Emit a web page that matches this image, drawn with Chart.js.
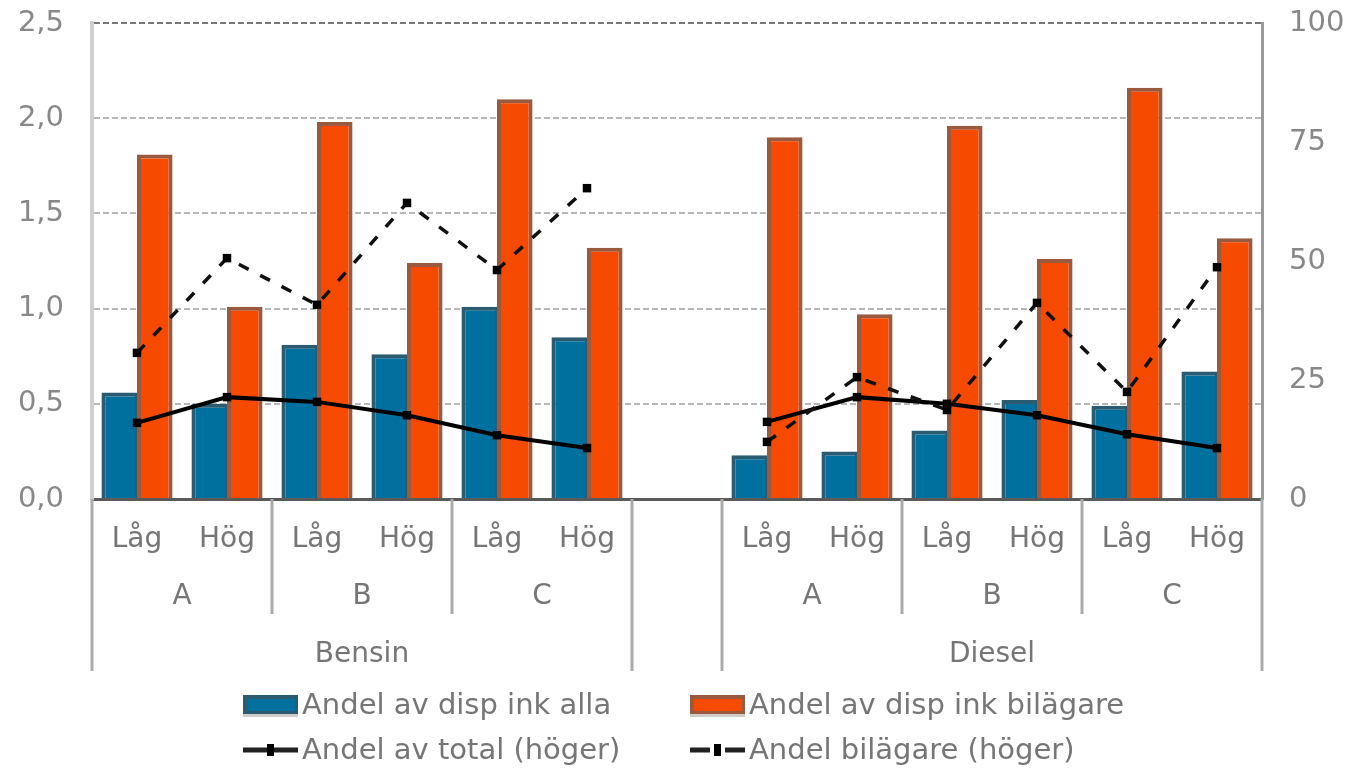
<!DOCTYPE html>
<html>
<head>
<meta charset="utf-8">
<script src="https://cdn.jsdelivr.net/npm/chart.js@4.4.1/dist/chart.umd.min.js"></script>
<style>
  html, body { margin: 0; padding: 0; background: #fff; }
  #wrap { position: relative; width: 1347px; height: 769px; }
</style>
</head>
<body>
<div id="wrap"><canvas id="c" width="1347" height="769"></canvas></div>
<script>
// Grouping of the x axis: fuel -> price class -> income level
const fuelLabels = ['Bensin', 'Diesel'];
const classLabels = ['A', 'B', 'C'];
const levelLabels = ['Låg', 'Hög'];

// Tick labels
const leftTicks = ['0,0', '0,5', '1,0', '1,5', '2,0', '2,5'];
const rightTicks = ['0', '25', '50', '75', '100'];

// Series (one empty slot separates the two fuels)
const shareIncomeAll    = [0.56, 0.50, 0.81, 0.76, 1.01, 0.85, null, 0.23, 0.25, 0.36, 0.52, 0.49, 0.67];
const shareIncomeOwners = [1.81, 1.01, 1.98, 1.24, 2.10, 1.32, null, 1.90, 0.97, 1.96, 1.26, 2.16, 1.37];
const shareOfTotal      = [16.0, 21.4, 20.4, 17.6, 13.4, 10.7, null, 16.2, 21.4, 20.0, 17.6, 13.6, 10.7];
const shareOwners       = [30.7, 50.6, 40.8, 62.2, 48.1, 65.3, null, 12.0, 25.6, 18.7, 41.2, 22.5, 48.7];

const seriesNames = [
  'Andel av disp ink alla',
  'Andel av disp ink bilägare',
  'Andel av total (höger)',
  'Andel bilägare (höger)'
];

// Build flat category list with a blank slot between fuels
const categories = [];
const fuelSpans = [];
fuelLabels.forEach((fuel, fi) => {
  if (fi > 0) categories.push('');
  const start = categories.length;
  const classes = [];
  classLabels.forEach(cls => {
    const cStart = categories.length;
    levelLabels.forEach(lv => categories.push(lv));
    classes.push({ name: cls, from: cStart, to: categories.length - 1 });
  });
  fuelSpans.push({ name: fuel, from: start, to: categories.length - 1, classes });
});

const FONT = '"DejaVu Sans", Verdana, sans-serif';
const TEXT = '#767676';
const BLUE = '#00709f', BLUE_EDGE = '#2a5b70';
const ORANGE = '#f54a00', ORANGE_EDGE = '#9a5a40';

// Multi-level category labels, separators and the legend
const groupAxis = {
  id: 'groupAxis',
  afterDraw(chart) {
    const ctx = chart.ctx;
    const x = chart.scales.x;
    const area = chart.chartArea;
    const step = x.getPixelForValue(1) - x.getPixelForValue(0);
    ctx.save();
    ctx.textAlign = 'center';
    ctx.textBaseline = 'middle';
    ctx.font = '28px ' + FONT;
    ctx.fillStyle = TEXT;
    categories.forEach((lab, i) => {
      if (lab) ctx.fillText(lab, x.getPixelForValue(i), area.bottom + 41);
    });
    ctx.strokeStyle = '#ababab';
    ctx.lineWidth = 3;
    fuelSpans.forEach(f => {
      const l = x.getPixelForValue(f.from) - step / 2;
      const r = x.getPixelForValue(f.to) + step / 2;
      [l, r].forEach(px => {
        ctx.beginPath(); ctx.moveTo(px, area.bottom); ctx.lineTo(px, area.bottom + 172); ctx.stroke();
      });
      f.classes.forEach((c, ci) => {
        const cl = x.getPixelForValue(c.from) - step / 2;
        const cr = x.getPixelForValue(c.to) + step / 2;
        if (ci > 0) {
          ctx.beginPath(); ctx.moveTo(cl, area.bottom); ctx.lineTo(cl, area.bottom + 115); ctx.stroke();
        }
        ctx.fillText(c.name, (cl + cr) / 2, area.bottom + 98);
      });
      ctx.fillText(f.name, (l + r) / 2, area.bottom + 156);
    });

    // Legend: two columns, two rows
    const cols = [243, 690];
    const rows = [705, 750];
    ctx.textAlign = 'left';
    ctx.font = '29px ' + FONT;
    chart.data.datasets.forEach((ds, i) => {
      const cx = cols[i % 2], cy = rows[Math.floor(i / 2)];
      if (ds.type === 'line') {
        ctx.strokeStyle = '#222';
        ctx.lineWidth = 5;
        ctx.setLineDash([]);
        if (ds.borderDash && ds.borderDash.length) {
          ctx.beginPath(); ctx.moveTo(cx, cy); ctx.lineTo(cx + 20, cy); ctx.stroke();
          ctx.beginPath(); ctx.moveTo(cx + 35, cy); ctx.lineTo(cx + 55, cy); ctx.stroke();
        } else {
          ctx.beginPath(); ctx.moveTo(cx, cy); ctx.lineTo(cx + 55, cy); ctx.stroke();
        }
        ctx.fillStyle = '#000';
        ctx.fillRect(cx + 24, cy - 6, 7, 12);
      } else {
        ctx.fillStyle = ds.borderColor;
        ctx.fillRect(cx, cy - 10, 55, 19);
        ctx.fillStyle = ds.backgroundColor;
        ctx.fillRect(cx + 4, cy - 6, 48, 12);
        ctx.fillStyle = '#d0ccca';
        ctx.fillRect(cx, cy + 9, 55, 3);
      }
      ctx.fillStyle = TEXT;
      ctx.fillText(ds.label, cx + 59, cy + 1);
    });
    ctx.restore();
  }
};

// Keep the plot area exactly where the axes are fixed (no extra label padding)
const noPad = s => { s.paddingTop = 0; s.paddingBottom = 0; };

new Chart(document.getElementById('c'), {
  data: {
    labels: categories,
    datasets: [
      { type: 'bar', label: seriesNames[0], data: shareIncomeAll, yAxisID: 'y', order: 2,
        backgroundColor: BLUE, borderColor: BLUE_EDGE,
        borderWidth: { top: 4, left: 4, right: 2, bottom: 0 }, borderSkipped: 'bottom',
        categoryPercentage: 0.79, barPercentage: 1.0 },
      { type: 'bar', label: seriesNames[1], data: shareIncomeOwners, yAxisID: 'y', order: 2,
        backgroundColor: ORANGE, borderColor: ORANGE_EDGE,
        borderWidth: { top: 4, left: 4, right: 4, bottom: 0 }, borderSkipped: 'bottom',
        categoryPercentage: 0.79, barPercentage: 1.0 },
      { type: 'line', label: seriesNames[2], data: shareOfTotal, yAxisID: 'y1', order: 1,
        borderColor: '#000', borderWidth: 4, backgroundColor: '#000',
        pointStyle: 'rect', pointRadius: 6, pointBorderWidth: 0, spanGaps: false, tension: 0 },
      { type: 'line', label: seriesNames[3], data: shareOwners, yAxisID: 'y1', order: 0,
        borderColor: '#111', borderWidth: 3.5, borderDash: [11, 13], backgroundColor: '#000',
        pointStyle: 'rect', pointRadius: 6, pointBorderWidth: 0, spanGaps: false, tension: 0 }
    ]
  },
  options: {
    responsive: false,
    animation: false,
    devicePixelRatio: 1,
    layout: { padding: { top: 23, left: 0, right: 0, bottom: 0 } },
    plugins: { legend: { display: false }, tooltip: { enabled: false } },
    scales: {
      x: {
        offset: true,
        grid: { display: false },
        ticks: { display: false },
        border: { display: true, color: '#5a5a5a', width: 3 },
        afterFit(s) { s.height = 270; s.paddingLeft = 0; s.paddingRight = 0; }
      },
      y: {
        position: 'left',
        min: 0, max: 2.5,
        ticks: {
          stepSize: 0.5, padding: 28, color: '#888',
          font: { family: FONT, size: 29 },
          callback: (v, i) => leftTicks[i]
        },
        grid: {
          drawTicks: false, lineWidth: 2,
          color: ctx => ctx.index === leftTicks.length - 1 ? '#777' : '#b8b8b8'
        },
        border: { display: true, color: '#cfcfcf', width: 4, dash: [6, 3] },
        afterFit(s) { s.width = 92; noPad(s); }
      },
      y1: {
        position: 'right',
        min: 0, max: 100,
        ticks: {
          stepSize: 25, padding: 27, color: '#888',
          font: { family: FONT, size: 29 },
          callback: (v, i) => rightTicks[i]
        },
        grid: { display: false, drawTicks: false },
        border: { display: true, color: '#9a9a9a', width: 3 },
        afterFit(s) { s.width = 85; noPad(s); }
      }
    }
  },
  plugins: [groupAxis]
});
</script>
</body>
</html>
